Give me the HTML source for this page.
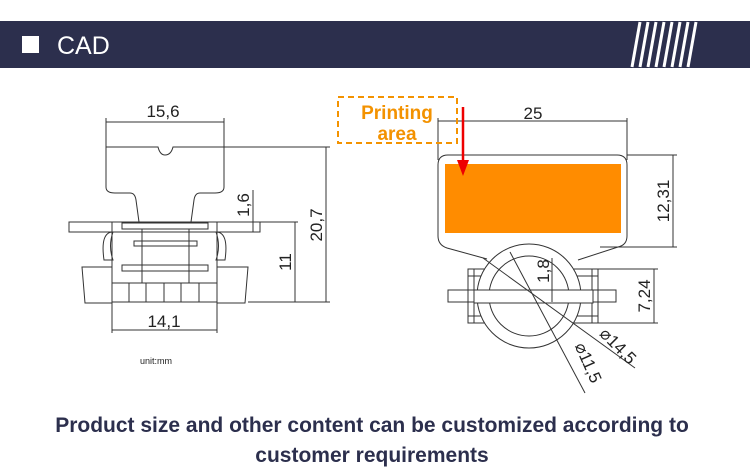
<!DOCTYPE html>
<html><head><meta charset="utf-8"><style>
body{margin:0;width:750px;height:471px;background:#fff;overflow:hidden}
svg{display:block}
</style></head><body>
<svg width="750" height="471" viewBox="0 0 750 471" xmlns="http://www.w3.org/2000/svg" font-family="Liberation Sans, sans-serif">
<rect x="0" y="21" width="750" height="47" fill="#2c2f4d"/>
<rect x="22" y="36" width="17" height="17" fill="#fff"/>
<text x="57" y="54" font-size="25" fill="#fff">CAD</text>
<g stroke="#fff" stroke-width="3">
<line x1="640" y1="22" x2="632" y2="67"/><line x1="648" y1="22" x2="640" y2="67"/><line x1="656" y1="22" x2="648" y2="67"/><line x1="664" y1="22" x2="656" y2="67"/><line x1="672" y1="22" x2="664" y2="67"/><line x1="680" y1="22" x2="672" y2="67"/><line x1="688" y1="22" x2="680" y2="67"/><line x1="696" y1="22" x2="688" y2="67"/>
</g>
<g fill="none" stroke="#333" stroke-width="1">
<line x1="106" y1="118" x2="106" y2="147"/><line x1="224" y1="118" x2="224" y2="147"/>
<line x1="106" y1="122" x2="224" y2="122"/>
<path d="M106 147 L158 147 Q160 155 165 155 Q171 155 173 147 L224 147 L224 187 Q224 193 215 193 L200 193 Q195 193 194 200 L191 222 M106 147 L106 187 Q106 193 115 193 L130 193 Q135 193 136 200 L139 222"/>
<rect x="69" y="222" width="191" height="10"/>
<line x1="112" y1="222" x2="112" y2="303"/><line x1="217" y1="222" x2="217" y2="303"/>
<rect x="122" y="223" width="86" height="6"/><rect x="134" y="241" width="63" height="5"/><rect x="122" y="265" width="86" height="6"/>
<line x1="142" y1="229" x2="142" y2="283"/><line x1="189" y1="229" x2="189" y2="283"/>
<path d="M113 232 Q100 232 104 260 L113 260 Q108 246 113 232Z M216 232 Q229 232 225 260 L216 260 Q221 246 216 232Z"/>
<path d="M112 267 L82 267 L85 303 L112 303 M217 267 L248 267 L245 303 L217 303"/>
<rect x="112" y="283" width="105" height="19"/>
<line x1="129" y1="283" x2="129" y2="302"/><line x1="146" y1="283" x2="146" y2="302"/><line x1="164" y1="283" x2="164" y2="302"/><line x1="181" y1="283" x2="181" y2="302"/><line x1="199" y1="283" x2="199" y2="302"/>
<line x1="112" y1="303" x2="112" y2="333"/><line x1="217" y1="303" x2="217" y2="333"/>
<line x1="112" y1="330" x2="217" y2="330"/>
<line x1="224" y1="147" x2="330" y2="147"/><line x1="248" y1="302" x2="330" y2="302"/><line x1="260" y1="222" x2="298" y2="222"/>
<line x1="295" y1="222" x2="295" y2="302"/><line x1="326" y1="147" x2="326" y2="302"/>
<line x1="253" y1="190" x2="253" y2="232"/>
<line x1="438" y1="118" x2="438" y2="160"/><line x1="627" y1="118" x2="627" y2="160"/>
<line x1="438" y1="121" x2="627" y2="121"/>
<path d="M448 155 L617 155 Q627 155 627 165 L627 236 Q627 245 618 247 L578 260 M448 155 Q438 155 438 165 L438 236 Q438 245 447 248 L487 259"/>
<line x1="627" y1="155" x2="677" y2="155"/><line x1="600" y1="247" x2="677" y2="247"/>
<line x1="673" y1="155" x2="673" y2="247"/>
<rect x="468" y="269" width="130" height="54"/>
<line x1="474" y1="269" x2="474" y2="323"/><line x1="592" y1="269" x2="592" y2="323"/>
<line x1="468" y1="276" x2="598" y2="276"/><line x1="468" y1="316" x2="598" y2="316"/>
<rect x="448" y="290" width="168" height="12"/>
<circle cx="529" cy="296" r="52" fill="#fff"/>
<circle cx="529" cy="296" r="40"/>
<rect x="474" y="290" width="119" height="13" fill="#fff"/>
<line x1="598" y1="269" x2="658" y2="269"/><line x1="598" y1="323" x2="658" y2="323"/>
<line x1="654" y1="269" x2="654" y2="323"/>
<line x1="552" y1="258" x2="552" y2="302"/>
<line x1="483" y1="258" x2="635" y2="368"/>
<line x1="510" y1="252" x2="585" y2="393"/>
</g>
<rect x="445" y="164" width="176" height="69" fill="#ff8c00"/>
<rect x="338" y="97" width="119" height="46" fill="none" stroke="#f39200" stroke-width="2" stroke-dasharray="6,4"/>
<text x="397" y="119" font-size="19" font-weight="bold" fill="#f39200" text-anchor="middle">Printing</text>
<text x="397" y="140" font-size="19" font-weight="bold" fill="#f39200" text-anchor="middle">area</text>
<line x1="463" y1="107" x2="463" y2="165" stroke="#e00" stroke-width="2.5"/>
<path d="M457 160 L463 176 L469 160Z" fill="#e00"/>
<g fill="#222" font-size="17">
<text x="163" y="117" text-anchor="middle">15,6</text>
<text x="164" y="327" text-anchor="middle">14,1</text>
<text transform="translate(291,262) rotate(-90)" text-anchor="middle">11</text>
<text transform="translate(322,225) rotate(-90)" text-anchor="middle">20,7</text>
<text transform="translate(249,205) rotate(-90)" text-anchor="middle">1,6</text>
<text x="533" y="119" text-anchor="middle">25</text>
<text transform="translate(669,201) rotate(-90)" text-anchor="middle">12,31</text>
<text transform="translate(549,271) rotate(-90)" text-anchor="middle">1,8</text>
<text transform="translate(650,296) rotate(-90)" text-anchor="middle">7,24</text>
<text transform="translate(614,350) rotate(45)" text-anchor="middle">⌀14,5</text>
<text transform="translate(583,365) rotate(66)" text-anchor="middle">⌀11,5</text>
</g>
<text x="140" y="364" font-size="9" fill="#222">unit:mm</text>
<g fill="#2c2f4d" font-size="21" font-weight="bold" text-anchor="middle">
<text x="372" y="432">Product size and other content can be customized according to</text>
<text x="372" y="462">customer requirements</text>
</g>
</svg>
</body></html>
